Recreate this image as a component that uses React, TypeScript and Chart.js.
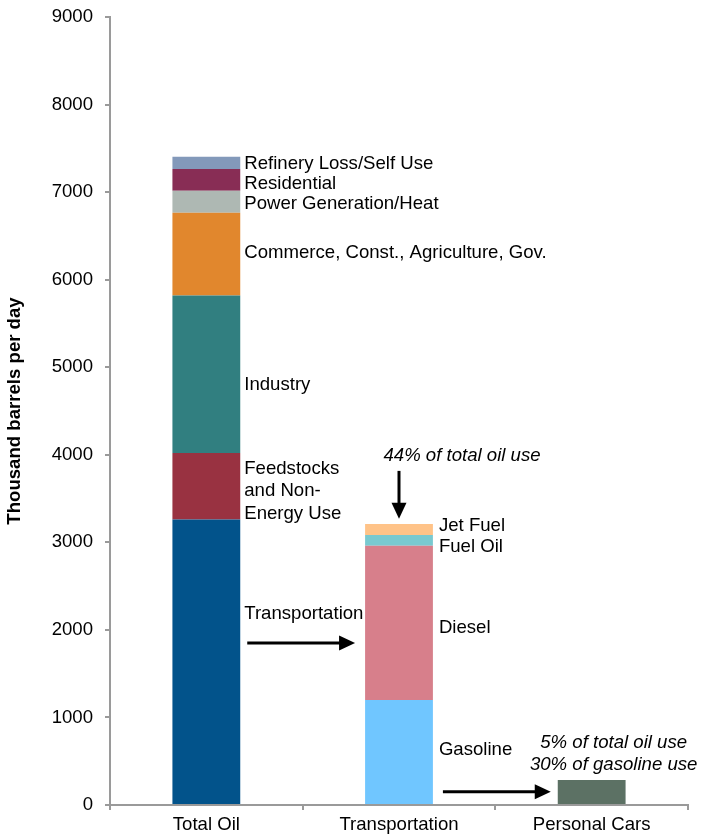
import React, { useEffect, useRef } from "react";
import { Chart, registerables } from "chart.js";

Chart.register(...registerables);

// ---------- data ----------
const categories = ["Total Oil", "Transportation", "Personal Cars"];

const totalOilSegments = [
  "Transportation",
  "Feedstocks and Non-Energy Use",
  "Industry",
  "Commerce, Const., Agriculture, Gov.",
  "Power Generation/Heat",
  "Residential",
  "Refinery Loss/Self Use",
];
const totalOilValues = [3260, 760, 1800, 945, 250, 250, 140];
const totalOilColors = ["#02538b", "#993241", "#317f80", "#e1872d", "#aeb8b3", "#882d55", "#8399ba"];

const transportSegments = ["Gasoline", "Diesel", "Fuel Oil", "Jet Fuel"];
const transportValues = [1200, 1760, 125, 125];
const transportColors = ["#70c6ff", "#d77f8b", "#79c9d0", "#ffc388"];

const carsSegments = ["Personal Cars"];
const carsValues = [285];
const carsColors = ["#5c7164"];

const yMin = 0;
const yMax = 9000;
const yStep = 1000;
const yTitle = "Thousand barrels per day";

// labels beside bars: lines of text, anchor value (thousand barrels/day)
const totalOilLabels = [
  { lines: ["Refinery Loss/Self Use"], at: 7339 },
  { lines: ["Residential"], at: 7107 },
  { lines: ["Power Generation/Heat"], at: 6882 },
  { lines: ["Commerce, Const., Agriculture, Gov."], at: 6318 },
  { lines: ["Industry"], at: 4812 },
  { lines: ["Feedstocks", "and Non-", "Energy Use"], at: 3597 },
  { lines: ["Transportation"], at: 2194 },
];
const transportLabels = [
  { lines: ["Jet Fuel"], at: 3196 },
  { lines: ["Fuel Oil"], at: 2957 },
  { lines: ["Diesel"], at: 2040 },
  { lines: ["Gasoline"], at: 642 },
];
const noteTransport = { lines: ["44% of total oil use"], at: 4005 };
const noteCars = { lines: ["5% of total oil use", "30% of gasoline use"], at: 594 };

// arrows (anchor values in thousand barrels/day)
const arrowTransportAt = 1851;
const arrowDownFrom = 3816;
const arrowDownTo = 3268;
const arrowCarsAt = 150;

// ---------- styles ----------
const FONT = '"Liberation Sans", Arial, Helvetica, sans-serif';
const FONT_SIZE = 18.6;
const AXIS_COLOR = "#9a9a9a";

function buildDatasets() {
  const ds: any[] = [];
  totalOilSegments.forEach((name, i) => {
    ds.push({ label: name, data: [totalOilValues[i], null, null], backgroundColor: totalOilColors[i] });
  });
  transportSegments.forEach((name, i) => {
    ds.push({ label: name, data: [null, transportValues[i], null], backgroundColor: transportColors[i] });
  });
  carsSegments.forEach((name, i) => {
    ds.push({ label: name, data: [null, null, carsValues[i]], backgroundColor: carsColors[i] });
  });
  return ds;
}

function barBounds(chart: any, idx: number) {
  for (let d = 0; d < chart.data.datasets.length; d++) {
    const v = chart.data.datasets[d].data[idx];
    if (v !== null && v !== undefined) {
      const el: any = chart.getDatasetMeta(d).data[idx];
      return { left: el.x - el.width / 2, right: el.x + el.width / 2, center: el.x };
    }
  }
  const c = chart.scales.x.getPixelForValue(idx);
  return { left: c, right: c, center: c };
}

function drawArrowH(ctx: CanvasRenderingContext2D, x1: number, x2: number, y: number) {
  const headLen = 16;
  const headHalf = 7.5;
  ctx.save();
  ctx.strokeStyle = "#000";
  ctx.fillStyle = "#000";
  ctx.lineWidth = 3;
  ctx.beginPath();
  ctx.moveTo(x1, y);
  ctx.lineTo(x2 - headLen + 1, y);
  ctx.stroke();
  ctx.beginPath();
  ctx.moveTo(x2, y);
  ctx.lineTo(x2 - headLen, y - headHalf);
  ctx.lineTo(x2 - headLen, y + headHalf);
  ctx.closePath();
  ctx.fill();
  ctx.restore();
}

function drawArrowV(ctx: CanvasRenderingContext2D, x: number, y1: number, y2: number) {
  const headLen = 16;
  const headHalf = 7.5;
  ctx.save();
  ctx.strokeStyle = "#000";
  ctx.fillStyle = "#000";
  ctx.lineWidth = 3;
  ctx.beginPath();
  ctx.moveTo(x, y1);
  ctx.lineTo(x, y2 - headLen + 1);
  ctx.stroke();
  ctx.beginPath();
  ctx.moveTo(x, y2);
  ctx.lineTo(x - headHalf, y2 - headLen);
  ctx.lineTo(x + headHalf, y2 - headLen);
  ctx.closePath();
  ctx.fill();
  ctx.restore();
}

function drawLines(
  ctx: CanvasRenderingContext2D,
  lines: string[],
  x: number,
  yCenter: number,
  align: CanvasTextAlign,
  italic: boolean,
  lineGap: number
) {
  ctx.save();
  ctx.font = `${italic ? "italic " : ""}${FONT_SIZE}px ${FONT}`;
  ctx.fillStyle = "#000";
  ctx.textAlign = align;
  ctx.textBaseline = "middle";
  const n = lines.length;
  lines.forEach((t, i) => {
    const y = yCenter + (i - (n - 1) / 2) * lineGap;
    ctx.fillText(t, x, y + 1);
  });
  ctx.restore();
}

const annotationPlugin = {
  id: "oilAnnotations",
  afterDatasetsDraw(chart: any) {
    const { ctx } = chart;
    const y = chart.scales.y;
    const b0 = barBounds(chart, 0);
    const b1 = barBounds(chart, 1);
    const b2 = barBounds(chart, 2);

    totalOilLabels.forEach((l) => drawLines(ctx, l.lines, b0.right + 4, y.getPixelForValue(l.at), "left", false, 22.4));
    transportLabels.forEach((l) => drawLines(ctx, l.lines, b1.right + 6, y.getPixelForValue(l.at), "left", false, 22.4));
    drawLines(ctx, noteTransport.lines, b1.center + 63, y.getPixelForValue(noteTransport.at), "center", true, 22.5);
    drawLines(ctx, noteCars.lines, b2.center + 22, y.getPixelForValue(noteCars.at), "center", true, 22.5);

    drawArrowH(ctx, b0.right + 7, b1.left - 10, y.getPixelForValue(arrowTransportAt));
    drawArrowV(ctx, b1.center, y.getPixelForValue(arrowDownFrom), y.getPixelForValue(arrowDownTo));
    drawArrowH(ctx, b1.right + 10, b2.left - 7, y.getPixelForValue(arrowCarsAt));
  },
};

export default function App() {
  const canvasRef = useRef<HTMLCanvasElement | null>(null);

  useEffect(() => {
    if (!canvasRef.current) return;
    const chart = new Chart(canvasRef.current, {
      type: "bar",
      data: { labels: categories, datasets: buildDatasets() },
      options: {
        animation: false,
        responsive: true,
        maintainAspectRatio: false,
        layout: { padding: { top: 17, right: 14, bottom: 0, left: 0 } },
        plugins: { legend: { display: false }, tooltip: { enabled: false } },
        datasets: { bar: { categoryPercentage: 1, barPercentage: 0.352, skipNull: true } as any },
        scales: {
          x: {
            stacked: true,
            offset: true,
            grid: {
              display: true,
              offset: true,
              drawOnChartArea: false,
              drawTicks: true,
              tickLength: 5,
              color: AXIS_COLOR,
              lineWidth: 2,
            },
            border: { display: true, color: AXIS_COLOR, width: 2 },
            ticks: { color: "#000", font: { family: FONT, size: FONT_SIZE }, padding: 4, maxRotation: 0 },
            afterFit: (s: any) => {
              s.height = 31;
              s.paddingLeft = 0;
              s.paddingRight = 0;
            },
          },
          y: {
            stacked: true,
            min: yMin,
            max: yMax,
            grid: {
              display: true,
              drawOnChartArea: false,
              drawTicks: true,
              tickLength: 5,
              color: AXIS_COLOR,
              lineWidth: 2,
            },
            border: { display: true, color: AXIS_COLOR, width: 2 },
            ticks: {
              stepSize: yStep,
              color: "#000",
              font: { family: FONT, size: FONT_SIZE },
              padding: 12,
              callback: (v: any) => String(v),
            },
            title: {
              display: true,
              text: yTitle,
              color: "#000",
              font: { family: FONT, size: FONT_SIZE, weight: "bold" },
              padding: { top: 4, bottom: 0 },
            },
            afterFit: (s: any) => {
              s.width = 110;
              s.paddingTop = 0;
              s.paddingBottom = 0;
            },
          },
        },
      },
      plugins: [annotationPlugin],
    });
    return () => chart.destroy();
  }, []);

  return (
    <div style={{ position: "absolute", left: 0, top: 0, width: 702, height: 836, background: "#fff" }}>
      <canvas ref={canvasRef} />
    </div>
  );
}
